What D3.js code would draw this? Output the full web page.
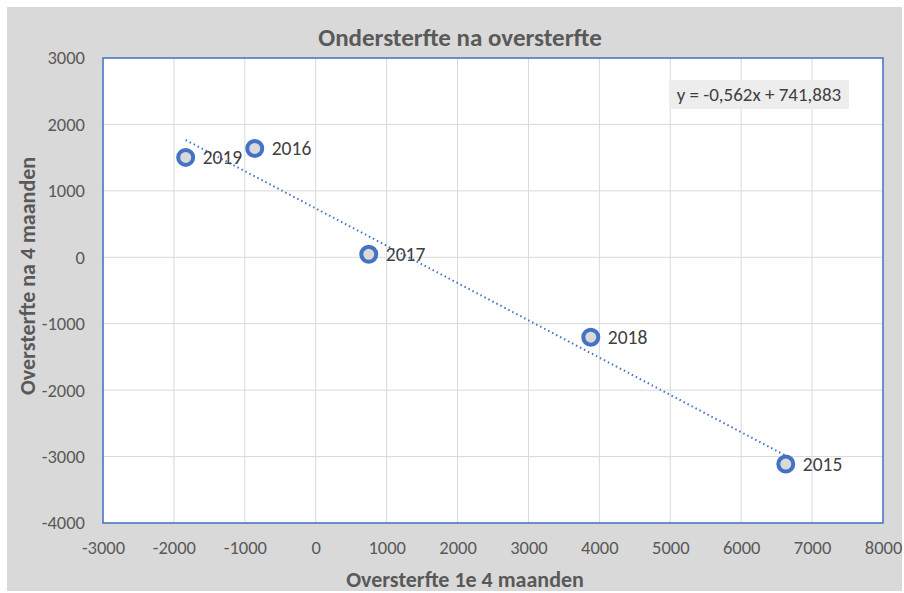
<!DOCTYPE html>
<html><head><meta charset="utf-8">
<script src="https://cdn.jsdelivr.net/npm/d3@7"></script>
<style>body{margin:0;background:#fff}svg{display:block}</style>
</head><body><svg id="c" width="904" height="593"></svg>
<script>
const years = ["2015","2016","2017","2018","2019"];
const xValues = [6629, -860, 748, 3879, -1834];
const yValues = [-3113, 1639, 45, -1203, 1504];
const xTicks = [-3000,-2000,-1000,0,1000,2000,3000,4000,5000,6000,7000,8000];
const yTicks = [3000,2000,1000,0,-1000,-2000,-3000,-4000];
const equationText = "y = -0,562x + 741,883";
const titleText = "Ondersterfte na oversterfte";
const xTitle = "Oversterfte 1e 4 maanden";
const yTitle = "Oversterfte na 4 maanden";

const font = "Carlito,'Liberation Sans Narrow',sans-serif";
const svg = d3.select("#c");
svg.append("rect").attr("x",7).attr("y",7).attr("width",895).attr("height",584).attr("fill","#D9D9D9");

const L=103,R=883,T=58,B=523;
const x = d3.scaleLinear().domain([-3000,8000]).range([L,R]);
const y = d3.scaleLinear().domain([-4000,3000]).range([B,T]);

svg.append("rect").attr("x",L).attr("y",T).attr("width",R-L).attr("height",B-T).attr("fill","#fff");

const g = svg.append("g");
g.selectAll(".vx").data(xTicks).enter().append("line")
 .attr("x1",d=>x(d)).attr("x2",d=>x(d)).attr("y1",T).attr("y2",B)
 .attr("stroke","#D9D9D9").attr("stroke-width",1);
g.selectAll(".hy").data(yTicks).enter().append("line")
 .attr("y1",d=>y(d)).attr("y2",d=>y(d)).attr("x1",L).attr("x2",R)
 .attr("stroke","#D9D9D9").attr("stroke-width",1);

svg.append("rect").attr("x",L).attr("y",T).attr("width",R-L).attr("height",B-T)
 .attr("fill","none").attr("stroke","#4472C4").attr("stroke-width",1.5);

// axes tick labels
const fmt = d => String(d);
const xa = svg.append("g").attr("transform",`translate(0,${B})`)
 .call(d3.axisBottom(x).tickValues(xTicks).tickSize(0).tickPadding(18).tickFormat(fmt));
const ya = svg.append("g").attr("transform",`translate(${L},0)`)
 .call(d3.axisLeft(y).tickValues(yTicks).tickSize(0).tickPadding(18).tickFormat(fmt));
[xa,ya].forEach(a=>{a.select(".domain").remove();
 a.selectAll("text").attr("font-family",font).attr("font-size",18.5).attr("fill","#595959");});

// trendline from regression
const n = xValues.length;
const mx = d3.mean(xValues), my = d3.mean(yValues);
let sxy=0,sxx=0;
for(let i=0;i<n;i++){sxy+=(xValues[i]-mx)*(yValues[i]-my);sxx+=(xValues[i]-mx)**2;}
const slope=sxy/sxx, icpt=my-slope*mx;
const x0=d3.min(xValues), x1=d3.max(xValues);
svg.append("line").attr("x1",x(x0)).attr("y1",y(slope*x0+icpt)).attr("x2",x(x1)).attr("y2",y(slope*x1+icpt))
 .attr("stroke","#4472C4").attr("stroke-width",2).attr("stroke-dasharray","1.5,3").attr("stroke-linecap","butt");

// points
const pts = years.map((yr,i)=>({yr,x:xValues[i],y:yValues[i]}));
svg.selectAll(".pt").data(pts).enter().append("circle")
 .attr("cx",d=>x(d.x)).attr("cy",d=>y(d.y)).attr("r",7.5)
 .attr("fill","#D9D9D9").attr("stroke","#4472C4").attr("stroke-width",4);
svg.selectAll(".lb").data(pts).enter().append("text")
 .attr("x",d=>x(d.x)+17).attr("y",d=>y(d.y)+7).text(d=>d.yr)
 .attr("font-family",font).attr("font-size",19.5).attr("fill","#404040");

// equation box
svg.append("rect").attr("x",669).attr("y",80).attr("width",180).attr("height",29).attr("fill","#EDEDED");
svg.append("text").attr("x",759).attr("y",101).attr("text-anchor","middle").text(equationText)
 .attr("font-family",font).attr("font-size",19).attr("fill","#404040");

// titles
svg.append("text").attr("x",460).attr("y",46).attr("text-anchor","middle").text(titleText)
 .attr("font-family",font).attr("font-size",25).attr("font-weight","bold").attr("fill","#595959");
svg.append("text").attr("x",465).attr("y",587).attr("text-anchor","middle").text(xTitle)
 .attr("font-family",font).attr("font-size",22).attr("font-weight","bold").attr("fill","#595959");
svg.append("text").attr("transform","translate(35,276) rotate(-90)").attr("text-anchor","middle").text(yTitle)
 .attr("font-family",font).attr("font-size",22).attr("font-weight","bold").attr("fill","#595959");
</script></body></html>
